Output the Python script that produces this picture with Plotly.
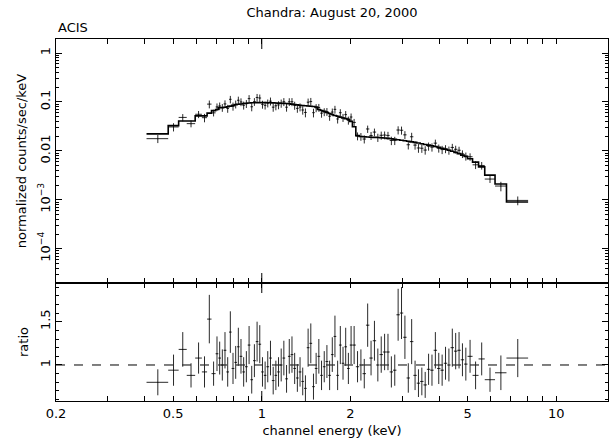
import math
import plotly.graph_objects as go

# ---------------- data ----------------
# channel energy bin edges (keV)
bin_edges = [
    0.406, 0.481, 0.522, 0.556, 0.594, 0.626, 0.652, 0.675, 0.697,
    0.712, 0.727, 0.742, 0.758, 0.774, 0.790, 0.807, 0.824, 0.841, 0.859,
    0.877, 0.896, 0.915, 0.934, 0.954, 0.974, 0.995, 1.016, 1.037, 1.059,
    1.082, 1.105, 1.128, 1.152, 1.176, 1.201, 1.227, 1.253, 1.280, 1.307,
    1.335, 1.363, 1.392, 1.422, 1.452, 1.483, 1.514, 1.546, 1.579, 1.613,
    1.647, 1.682, 1.718, 1.754, 1.791, 1.829, 1.868, 1.908, 1.948, 1.990,
    2.032, 2.087, 2.143, 2.200, 2.259, 2.320, 2.382, 2.446, 2.512, 2.579,
    2.648, 2.719, 2.792, 2.867, 2.944, 3.023, 3.104, 3.187, 3.273, 3.361,
    3.451, 3.543, 3.638, 3.736, 3.836, 3.939, 4.045, 4.153, 4.265, 4.379,
    4.497, 4.617, 4.741, 4.868, 5.000, 5.200, 5.450, 5.720, 6.200, 6.780,
    8.030,
]

# folded model (normalized counts/sec/keV) per bin
model_values = [
    0.0222, 0.0328, 0.0409, 0.0409, 0.0518, 0.0518, 0.0590, 0.0665,
    0.0700, 0.0766, 0.0766, 0.0780, 0.0800, 0.0820, 0.0850, 0.0875, 0.0896, 0.0910,
    0.0930, 0.0940, 0.0950, 0.0960, 0.0965, 0.0970, 0.0970, 0.0970, 0.0970, 0.0965,
    0.0960, 0.0955, 0.0950, 0.0945, 0.0940, 0.0935, 0.0930, 0.0915, 0.0900, 0.0885,
    0.0870, 0.0855, 0.0845, 0.0835, 0.0825, 0.0815, 0.0805, 0.0790, 0.0700, 0.0670,
    0.0640, 0.0610, 0.0580, 0.0555, 0.0530, 0.0510, 0.0490, 0.0470, 0.0455, 0.0440,
    0.0400, 0.0310, 0.0205, 0.0196, 0.0194, 0.0192, 0.0190, 0.0189, 0.0188, 0.0186,
    0.0183, 0.0180, 0.0177, 0.0173, 0.0169, 0.0165, 0.0161, 0.0157, 0.0153, 0.0149,
    0.0145, 0.0140, 0.0135, 0.0131, 0.0127, 0.0123, 0.0118, 0.0113, 0.0108, 0.0103,
    0.0098, 0.0093, 0.0088, 0.0082, 0.0077, 0.0069, 0.0059, 0.0047, 0.0032, 0.0021,
    0.00090,
]

# data / model ratio per bin
ratio_values = [
    0.80, 0.94, 1.18, 0.88, 1.08, 0.92, 1.53, 0.90,
    1.13, 1.08, 1.00, 1.17, 0.92, 1.38, 0.96, 1.03, 1.21, 1.10,
    0.92, 0.98, 1.23, 0.83, 1.05, 1.27, 1.24, 0.92, 0.88, 0.98,
    1.08, 0.82, 0.88, 0.92, 1.00, 1.08, 0.84, 1.10, 1.12, 0.96,
    0.85, 0.92, 0.81, 0.73, 1.20, 1.25, 0.75, 0.96, 1.10, 0.88,
    0.98, 1.04, 0.88, 1.12, 1.33, 0.88, 1.23, 1.02, 1.21, 0.96, 1.23,
    1.23, 0.98, 1.00, 0.90, 1.46, 1.08, 1.28, 1.00, 1.12, 1.15,
    1.15, 0.92, 0.94, 1.58, 1.60, 1.32, 0.85, 1.27, 0.88, 0.79,
    0.81, 0.77, 0.95, 0.94, 1.17, 0.96, 0.94, 1.02, 1.00, 1.20,
    1.16, 1.17, 1.06, 1.01,
    1.10, 0.88, 1.07,
    0.83, 0.91, 1.08,
]

# 1-sigma ratio errors per bin
ratio_errors = [
    0.15, 0.18, 0.20, 0.14, 0.18, 0.18, 0.28, 0.14,
    0.20, 0.19, 0.18, 0.21, 0.17, 0.24, 0.18, 0.19, 0.22, 0.20,
    0.17, 0.18, 0.22, 0.16, 0.19, 0.23, 0.22, 0.17, 0.16, 0.18,
    0.20, 0.16, 0.17, 0.17, 0.19, 0.20, 0.16, 0.20, 0.21, 0.18,
    0.16, 0.17, 0.16, 0.15, 0.22, 0.23, 0.15, 0.18, 0.20, 0.17,
    0.18, 0.19, 0.17, 0.20, 0.24, 0.17, 0.22, 0.19, 0.22, 0.18, 0.22,
    0.22, 0.18, 0.18, 0.17, 0.25, 0.20, 0.23, 0.19, 0.21, 0.21,
    0.21, 0.18, 0.18, 0.30, 0.30, 0.25, 0.17, 0.26, 0.17, 0.16,
    0.16, 0.15, 0.18, 0.18, 0.21, 0.18, 0.18, 0.19, 0.19, 0.22,
    0.21, 0.21, 0.19, 0.19,
    0.19, 0.16, 0.19,
    0.14, 0.20, 0.22,
]

x_major_ticks = [0.2, 0.5, 1, 2, 5, 10]
x_major_labels = ["0.2", "0.5", "1", "2", "5", "10"]
x_minor_ticks = [0.3, 0.4, 0.6, 0.7, 0.8, 0.9, 3, 4, 6, 7, 8, 9]
x_long_ticks = [1, 10]
y_top_ticks = [1e-4, 1e-3, 0.01, 0.1, 1]
y_top_labels = ["10<sup>\u22124</sup>", "10<sup>\u22123</sup>", "0.01", "0.1", "1"]
y_bot_ticks = [1, 1.5]
y_bot_labels = ["1", "1.5"]
y_bot_minor = [0.6, 0.7, 0.8, 0.9, 1.1, 1.2, 1.3, 1.4, 1.6, 1.7, 1.8, 1.9]

# ---------------- derived ----------------
lo = bin_edges[:-1]
hi = bin_edges[1:]
centers = [(a + b) / 2 for a, b in zip(lo, hi)]
xerr_minus = [c - a for c, a in zip(centers, lo)]
xerr_plus = [b - c for b, c in zip(hi, centers)]
data_values = [m * r for m, r in zip(model_values, ratio_values)]
data_errors = [m * e for m, e in zip(model_values, ratio_errors)]

y_top_minor = [k * 10 ** d for d in range(-5, 1) for k in range(2, 10)]

FONT = "DejaVu Sans"
FS = 13
INK = "black"
BAR = "#2a2a2a"

fig = go.Figure()

# spectrum data
fig.add_trace(go.Scatter(
    x=centers, y=data_values, mode="markers",
    marker=dict(size=1, color=INK),
    error_x=dict(type="data", array=xerr_plus, arrayminus=xerr_minus,
                 color=BAR, thickness=1, width=0),
    error_y=dict(type="data", array=data_errors, color=BAR, thickness=1, width=0),
    xaxis="x", yaxis="y", showlegend=False, hoverinfo="skip",
))
# model step line
fig.add_trace(go.Scatter(
    x=bin_edges, y=model_values + [model_values[-1]], mode="lines",
    line=dict(color=INK, width=1.6, shape="hv"),
    xaxis="x", yaxis="y", showlegend=False, hoverinfo="skip",
))
# ratio
fig.add_trace(go.Scatter(
    x=centers, y=ratio_values, mode="markers",
    marker=dict(size=1, color=INK),
    error_x=dict(type="data", array=xerr_plus, arrayminus=xerr_minus,
                 color=BAR, thickness=1, width=0),
    error_y=dict(type="data", array=ratio_errors, color=BAR, thickness=1, width=0),
    xaxis="x2", yaxis="y2", showlegend=False, hoverinfo="skip",
))

H, W = 445, 609
M_T, M_B, M_L, M_R = 39, 44, 56, 1
plot_h = H - M_T - M_B
split = (H - M_B - 283) / plot_h
xrange_log = [math.log10(0.2), math.log10(15)]

def xaxis_cfg(show_labels, anchor, mirror):
    return dict(
        type="log", range=xrange_log, domain=[0, 1], anchor=anchor,
        showline=True, linecolor=INK, linewidth=1.2, mirror=mirror,
        ticks="inside", ticklen=5, tickwidth=1, tickcolor=INK,
        tickvals=x_major_ticks, ticktext=x_major_labels,
        showticklabels=show_labels, showgrid=False, zeroline=False,
        automargin=False,
        minor=dict(tickvals=x_minor_ticks, ticks="inside", ticklen=5,
                   tickwidth=1, tickcolor=INK, showgrid=False),
        tickfont=dict(family=FONT, size=FS, color=INK),
    )

xa1 = xaxis_cfg(False, "y", "allticks")
xa2 = xaxis_cfg(True, "y2", "ticks")
xa2["title"] = dict(text="channel energy (keV)", font=dict(family=FONT, size=FS, color=INK), standoff=6)

ya1 = dict(
    type="log", range=[-4.70, 0.286], domain=[split, 1], anchor="x",
    showline=True, linecolor=INK, linewidth=1.2, mirror="allticks",
    ticks="inside", ticklen=6, tickwidth=1, tickcolor=INK,
    tickvals=y_top_ticks, ticktext=y_top_labels, tickangle=-90,
    showgrid=False, zeroline=False, automargin=False,
    minor=dict(tickvals=y_top_minor, ticks="inside", ticklen=3,
               tickwidth=1, tickcolor=INK, showgrid=False),
    tickfont=dict(family=FONT, size=FS, color=INK),
    title=dict(text="normalized counts/sec/keV", font=dict(family=FONT, size=FS, color=INK), standoff=6),
)
ya2 = dict(
    type="linear", range=[0.584, 1.947], domain=[0, split], anchor="x2",
    showline=True, linecolor=INK, linewidth=1.2, mirror="allticks",
    ticks="inside", ticklen=6, tickwidth=1, tickcolor=INK,
    tickvals=y_bot_ticks, ticktext=y_bot_labels, tickangle=-90,
    showgrid=False, zeroline=False, automargin=False,
    minor=dict(tickvals=y_bot_minor, ticks="inside", ticklen=3,
               tickwidth=1, tickcolor=INK, showgrid=False),
    tickfont=dict(family=FONT, size=FS, color=INK),
    title=dict(text="ratio", font=dict(family=FONT, size=FS, color=INK), standoff=6),
)

shapes = [
    dict(type="line", xref="x2 domain", yref="y2", x0=0, x1=1, y0=1, y1=1,
         line=dict(color=INK, width=1, dash="dash"), layer="below"),
]
for xr, yr in (("x", "y domain"), ("x2", "y2 domain")):
    for v in x_long_ticks:
        lv = math.log10(v)
        shapes.append(dict(type="line", xref=xr, yref=yr, x0=lv, x1=lv,
                           ysizemode="pixel", yanchor=0, y0=0, y1=10,
                           line=dict(color=INK, width=1)))
        shapes.append(dict(type="line", xref=xr, yref=yr, x0=lv, x1=lv,
                           ysizemode="pixel", yanchor=1, y0=0, y1=-10,
                           line=dict(color=INK, width=1)))

fig.update_layout(
    width=W, height=H,
    margin=dict(l=M_L, r=M_R, t=M_T, b=M_B, pad=0, autoexpand=False),
    paper_bgcolor="white", plot_bgcolor="white",
    xaxis=xa1, xaxis2=xa2, yaxis=ya1, yaxis2=ya2,
    shapes=shapes,
    hovermode=False,
    title=dict(text="Chandra: August 20, 2000", xref="paper", x=0.5, xanchor="center",
               yref="container", y=1 - 12 / H, yanchor="middle",
               font=dict(family=FONT, size=FS, color=INK)),
    annotations=[dict(text="ACIS", xref="paper", yref="paper", x=0,
                      y=(H - M_B - 27) / plot_h,
                      xanchor="left", yanchor="middle", showarrow=False,
                      font=dict(family=FONT, size=FS, color=INK))],
    font=dict(family=FONT, size=FS, color=INK),
)

fig.write_html("out.html", config={"displayModeBar": False},
               post_script="document.body.style.margin='0px';")
